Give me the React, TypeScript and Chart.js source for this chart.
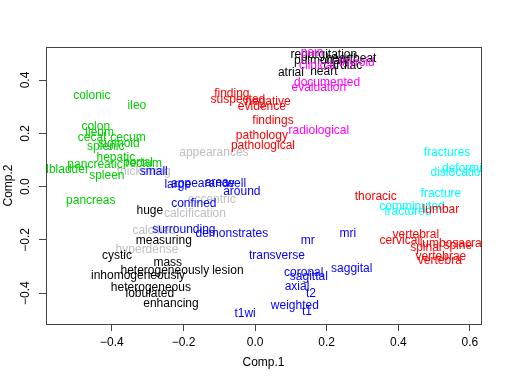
import React, { useEffect, useRef } from "react";
import { Chart, registerables } from "chart.js";
Chart.register(...registerables);

const xTicks = [-0.4, -0.2, 0, 0.2, 0.4, 0.6];
const yTicks = [-0.4, -0.2, 0, 0.2, 0.4];

const grayLabels = ["appearances", "thickening", "eccentric", "calcification", "calcified", "hyperdense"];
const grayX = [-0.115, -0.311, -0.121, -0.168, -0.282, -0.302];
const grayY = [0.126, 0.054, -0.051, -0.103, -0.164, -0.238];

const blackLabels = ["huge", "measuring", "cystic", "mass", "heterogeneously", "lesion", "inhomogeneously", "heterogeneous", "lobulated", "enhancing", "regurgitation", "pulmonary", "heartbeat", "cardiac", "heart", "atrial"];
const blackX = [-0.294, -0.255, -0.386, -0.244, -0.252, -0.076, -0.327, -0.291, -0.294, -0.235, 0.192, 0.187, 0.268, 0.245, 0.192, 0.1];
const blackY = [-0.092, -0.205, -0.261, -0.284, -0.314, -0.314, -0.336, -0.381, -0.404, -0.441, 0.494, 0.471, 0.479, 0.453, 0.43, 0.426];

const greenLabels = ["colonic", "ileo", "colon", "ileum", "cecal", "cecum", "splenic", "sigmoid", "hepatic", "pancreatic", "portal", "rectum", "gallbladder", "spleen", "pancreas"];
const greenX = [-0.456, -0.33, -0.445, -0.434, -0.456, -0.355, -0.417, -0.38, -0.389, -0.447, -0.327, -0.311, -0.546, -0.414, -0.459];
const greenY = [0.34, 0.302, 0.223, 0.201, 0.182, 0.182, 0.148, 0.16, 0.107, 0.081, 0.088, 0.085, 0.062, 0.039, -0.054];

const cyanLabels = ["fractures", "deformity", "dislocation", "fracture", "comminuted", "fractured"];
const cyanX = [0.536, 0.591, 0.569, 0.519, 0.438, 0.427];
const cyanY = [0.126, 0.066, 0.051, -0.028, -0.077, -0.096];

const redLabels = ["finding", "suspected", "negative", "evidence", "findings", "pathology", "pathological", "thoracic", "lumbar", "vertebral", "cervical", "lumbosacral", "spinal", "spine", "vertebrae", "vertebra"];
const redX = [-0.065, -0.048, 0.036, 0.019, 0.05, 0.019, 0.022, 0.337, 0.519, 0.449, 0.404, 0.55, 0.477, 0.566, 0.519, 0.516];
const redY = [0.347, 0.325, 0.317, 0.299, 0.246, 0.19, 0.152, -0.039, -0.085, -0.182, -0.205, -0.216, -0.231, -0.223, -0.265, -0.28];

const magentaLabels = ["pain", "clinical", "thyroid", "documented", "evaluation", "radiological"];
const magentaX = [0.159, 0.173, 0.284, 0.201, 0.178, 0.178];
const magentaY = [0.501, 0.453, 0.464, 0.389, 0.37, 0.208];

const blueLabels = ["small", "large", "appearance", "area", "well", "around", "confined", "surrounding", "demonstrates", "mr", "mri", "transverse", "saggital", "coronal", "sagittal", "axial", "t2", "weighted", "t1", "t1wi"];
const blueX = [-0.283, -0.216, -0.146, -0.107, -0.054, -0.037, -0.171, -0.199, -0.065, 0.147, 0.259, 0.061, 0.27, 0.136, 0.15, 0.117, 0.156, 0.111, 0.145, -0.028];
const blueY = [0.054, 0.006, 0.009, 0.013, 0.009, -0.021, -0.066, -0.163, -0.178, -0.205, -0.178, -0.261, -0.31, -0.325, -0.34, -0.377, -0.404, -0.449, -0.471, -0.479];

const FONT = '"Liberation Sans", Arial, Helvetica, sans-serif';

const fmt = (v: number) => (v < -1e-9 ? "\u2212" : "") + Math.abs(v).toFixed(1);

const mk = (words: string[], xs: number[], ys: number[], color: string) => ({
  label: color,
  data: xs.map((x, i) => ({ x, y: ys[i] })),
  words,
  textColor: color,
  pointRadius: 0,
  pointHoverRadius: 0,
  showLine: false,
});

const wordPlugin = {
  id: "wordLabels",
  afterDatasetsDraw(chart: any) {
    const { ctx, chartArea } = chart;
    ctx.save();
    ctx.beginPath();
    ctx.rect(chartArea.left, chartArea.top, chartArea.right - chartArea.left, chartArea.bottom - chartArea.top);
    ctx.clip();
    ctx.font = "12px " + FONT;
    ctx.textAlign = "center";
    ctx.textBaseline = "middle";
    chart.data.datasets.forEach((ds: any, i: number) => {
      const meta = chart.getDatasetMeta(i);
      ctx.fillStyle = ds.textColor;
      meta.data.forEach((el: any, j: number) => {
        ctx.fillText(ds.words[j], el.x, el.y);
      });
    });
    ctx.restore();
  },
  afterDraw(chart: any) {
    const { ctx, chartArea } = chart;
    ctx.save();
    ctx.strokeStyle = "#444";
    ctx.lineWidth = 1;
    ctx.strokeRect(
      Math.round(chartArea.left) + 0.5,
      Math.round(chartArea.top) + 0.5,
      Math.round(chartArea.right - chartArea.left),
      Math.round(chartArea.bottom - chartArea.top)
    );
    ctx.restore();
  },
};

export default function App() {
  const ref = useRef<HTMLCanvasElement | null>(null);
  useEffect(() => {
    if (!ref.current) return;
    Chart.defaults.font.family = FONT;
    const chart = new Chart(ref.current, {
      type: "scatter",
      data: {
        datasets: [
          mk(grayLabels, grayX, grayY, "#BEBEBE"),
          mk(blackLabels, blackX, blackY, "#000000"),
          mk(greenLabels, greenX, greenY, "#00CD00"),
          mk(cyanLabels, cyanX, cyanY, "#00FFFF"),
          mk(redLabels, redX, redY, "#FF0000"),
          mk(magentaLabels, magentaX, magentaY, "#FF00FF"),
          mk(blueLabels, blueX, blueY, "#0000FF"),
        ] as any,
      },
      options: {
        animation: false,
        responsive: false,
        events: [],
        layout: { padding: { left: 0, right: 24, top: 47, bottom: 0 } },
        plugins: { legend: { display: false }, tooltip: { enabled: false } },
        scales: {
          x: {
            type: "linear",
            min: -0.584,
            max: 0.631,
            afterBuildTicks: (s: any) => {
              s.ticks = xTicks.map((v) => ({ value: v }));
            },
            afterFit: (s: any) => {
              s.height = 58;
            },
            ticks: {
              font: { size: 12 },
              color: "#000",
              padding: 4,
              maxRotation: 0,
              autoSkip: false,
              callback: (v: any) => fmt(Number(v)),
            },
            grid: { drawOnChartArea: false, drawTicks: true, tickLength: 7, color: "#444", lineWidth: 1 },
            border: { display: false },
            title: { display: true, text: "Comp.1", font: { size: 12 }, color: "#000", padding: { top: 0, bottom: 12 } },
          },
          y: {
            type: "linear",
            min: -0.516,
            max: 0.524,
            afterBuildTicks: (s: any) => {
              s.ticks = yTicks.map((v) => ({ value: v }));
            },
            afterFit: (s: any) => {
              s.width = 46;
            },
            ticks: {
              font: { size: 12 },
              color: "#000",
              padding: 1,
              minRotation: 90,
              maxRotation: 90,
              crossAlign: "center",
              autoSkip: false,
              callback: (v: any) => fmt(Number(v)),
            },
            grid: { drawOnChartArea: false, drawTicks: true, tickLength: 7, color: "#444", lineWidth: 1 },
            border: { display: false },
            title: { display: true, text: "Comp.2", font: { size: 12 }, color: "#000", padding: { top: 1, bottom: 0 } },
          },
        },
      } as any,
      plugins: [wordPlugin],
    });
    return () => chart.destroy();
  }, []);
  return (
    <div style={{ position: "fixed", left: 0, top: 0, width: 505, height: 382, background: "#fff" }}>
      <canvas ref={ref} width={505} height={382} style={{ display: "block" }} />
    </div>
  );
}
